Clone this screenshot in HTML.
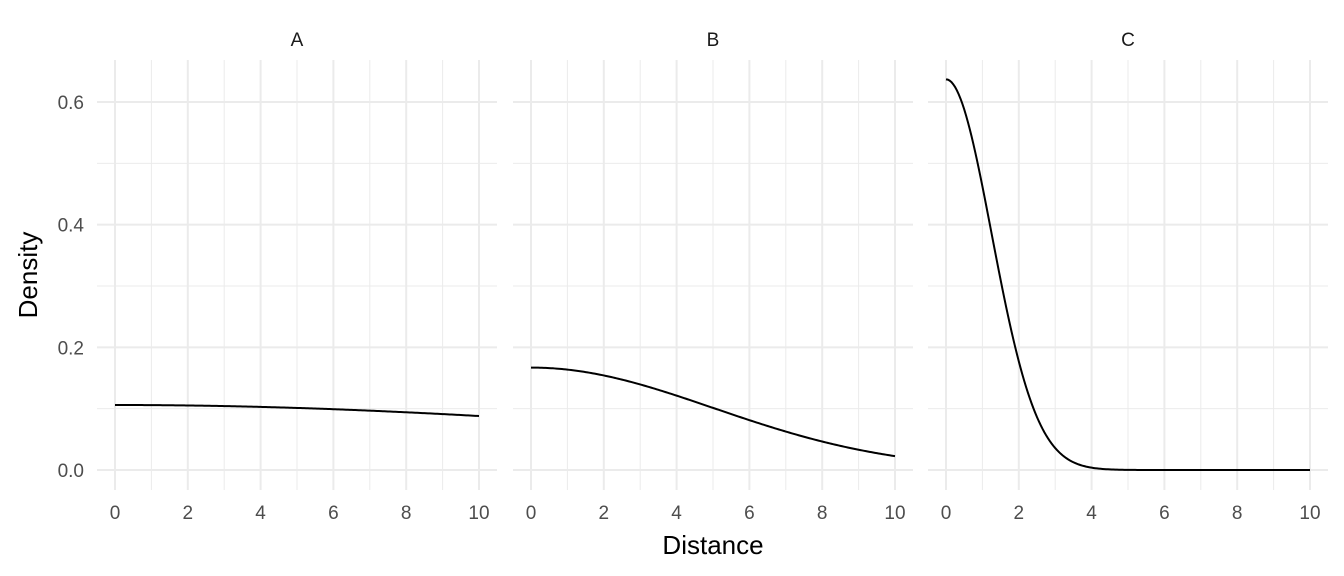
<!DOCTYPE html><html><head><style>body{margin:0;background:#fff}svg{display:block}</style></head><body>
<svg id="s" width="1344" height="576" xmlns="http://www.w3.org/2000/svg" font-family="Liberation Sans, sans-serif">
<g id="g"></g>
<text x="713" y="554" font-size="26" text-anchor="middle" fill="#000">Distance</text>
<text transform="translate(37,275) rotate(-90)" font-size="26" text-anchor="middle" fill="#000">Density</text>
</svg>
<script>
var g=document.getElementById('g'),h='';
var panels=[{l:97,x0:115,n:'A',f:function(x){return 0.106*Math.exp(-x*x/(2*16.4*16.4))}},
{l:513,x0:531,n:'B',f:function(x){return 0.167*Math.exp(-x*x/(2*5*5))}},
{l:928,x0:946,n:'C',f:function(x){return 0.637*Math.exp(-x*x/(2*1.25*1.25))}}];
var sx=36.4,sy=613.3,y0=470,pt=60,pb=490;
panels.forEach(function(p,i){
 var r=p.l+400;
 for(var v=0.1;v<0.65;v+=0.2){var y=y0-v*sy;h+='<line x1="'+p.l+'" x2="'+r+'" y1="'+y+'" y2="'+y+'" stroke="#ebebeb" stroke-width="1"/>';}
 for(var v=1;v<10;v+=2){var x=p.x0+v*sx;h+='<line x1="'+x+'" x2="'+x+'" y1="'+pt+'" y2="'+pb+'" stroke="#ebebeb" stroke-width="1"/>';}
 for(var k=0;k<=3;k++){var y=y0-k*0.2*sy;h+='<line x1="'+p.l+'" x2="'+r+'" y1="'+y+'" y2="'+y+'" stroke="#ebebeb" stroke-width="2"/>';}
 for(var v=0;v<=10;v+=2){var x=p.x0+v*sx;h+='<line x1="'+x+'" x2="'+x+'" y1="'+pt+'" y2="'+pb+'" stroke="#ebebeb" stroke-width="2"/>';
  h+='<text x="'+x+'" y="519" font-size="19" fill="#4d4d4d" text-anchor="middle">'+v+'</text>';}
 h+='<text x="'+(p.l+200)+'" y="46" font-size="19" fill="#1a1a1a" text-anchor="middle">'+p.n+'</text>';
 var d='';for(var j=0;j<=200;j++){var x=j/20;d+=(j?'L':'M')+(p.x0+x*sx).toFixed(2)+','+(y0-p.f(x)*sy).toFixed(2);}
 h+='<path d="'+d+'" fill="none" stroke="#000" stroke-width="2"/>';
});
['0.0','0.2','0.4','0.6'].forEach(function(t,k){h+='<text x="84" y="'+(y0-k*0.2*sy+7)+'" font-size="19" fill="#4d4d4d" text-anchor="end">'+t+'</text>';});
g.innerHTML=h;
</script>
</body></html>
